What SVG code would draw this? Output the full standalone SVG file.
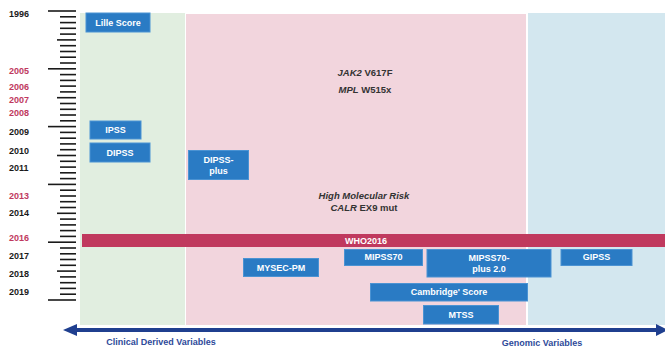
<svg xmlns="http://www.w3.org/2000/svg" width="665" height="350" viewBox="0 0 665 350">
<defs>
<style>
.yr{font-family:"Liberation Sans",Arial,sans-serif;font-size:9px;font-weight:bold;fill:#1a1a1a}
.yr.r{fill:#c0395e}
.box{fill:#2a7bc4;stroke:#4b93d3;stroke-width:1}
.bt{font-family:"Liberation Sans",Arial,sans-serif;font-size:9px;font-weight:bold;fill:#ffffff;text-anchor:middle}
.mt{font-family:"Liberation Sans",Arial,sans-serif;font-size:9.5px;font-weight:bold;fill:#333333;text-anchor:middle}
.ax{font-family:"Liberation Sans",Arial,sans-serif;font-size:9px;font-weight:bold;fill:#2e4a9a;text-anchor:middle}
.tk{stroke:#1a1a1a;stroke-width:1.6}
</style>
</defs>
<rect width="665" height="350" fill="#ffffff"/>
<g id="panels">
<rect x="80" y="13" width="105" height="312" fill="#e1eee0"/>
<rect x="186" y="14" width="340" height="311" fill="#f2d5dd"/>
<rect x="528" y="13" width="137" height="312" fill="#d3e7ef"/>
</g>
<g id="scale">
<g class="tk">
<line x1="48" y1="11" x2="76" y2="11"/>
<line x1="60" y1="16.8" x2="76" y2="16.8"/>
<line x1="60" y1="22.6" x2="76" y2="22.6"/>
<line x1="60" y1="28.3" x2="76" y2="28.3"/>
<line x1="60" y1="34.1" x2="76" y2="34.1"/>
<line x1="57" y1="39.9" x2="76" y2="39.9"/>
<line x1="60" y1="45.7" x2="76" y2="45.7"/>
<line x1="60" y1="51.5" x2="76" y2="51.5"/>
<line x1="60" y1="57.2" x2="76" y2="57.2"/>
<line x1="60" y1="63" x2="76" y2="63"/>
<line x1="48" y1="68.8" x2="76" y2="68.8"/>
<line x1="60" y1="74.6" x2="76" y2="74.6"/>
<line x1="60" y1="80.4" x2="76" y2="80.4"/>
<line x1="60" y1="86.1" x2="76" y2="86.1"/>
<line x1="60" y1="91.9" x2="76" y2="91.9"/>
<line x1="57" y1="97.7" x2="76" y2="97.7"/>
<line x1="60" y1="103.5" x2="76" y2="103.5"/>
<line x1="60" y1="109.3" x2="76" y2="109.3"/>
<line x1="60" y1="115" x2="76" y2="115"/>
<line x1="60" y1="120.8" x2="76" y2="120.8"/>
<line x1="48" y1="126.6" x2="76" y2="126.6"/>
<line x1="60" y1="132.4" x2="76" y2="132.4"/>
<line x1="60" y1="138.2" x2="76" y2="138.2"/>
<line x1="60" y1="143.9" x2="76" y2="143.9"/>
<line x1="60" y1="149.7" x2="76" y2="149.7"/>
<line x1="57" y1="155.5" x2="76" y2="155.5"/>
<line x1="60" y1="161.3" x2="76" y2="161.3"/>
<line x1="60" y1="167.1" x2="76" y2="167.1"/>
<line x1="60" y1="172.8" x2="76" y2="172.8"/>
<line x1="60" y1="178.6" x2="76" y2="178.6"/>
<line x1="48" y1="184.4" x2="76" y2="184.4"/>
<line x1="60" y1="190.2" x2="76" y2="190.2"/>
<line x1="60" y1="196" x2="76" y2="196"/>
<line x1="60" y1="201.7" x2="76" y2="201.7"/>
<line x1="60" y1="207.5" x2="76" y2="207.5"/>
<line x1="57" y1="213.3" x2="76" y2="213.3"/>
<line x1="60" y1="219.1" x2="76" y2="219.1"/>
<line x1="60" y1="224.9" x2="76" y2="224.9"/>
<line x1="60" y1="230.6" x2="76" y2="230.6"/>
<line x1="60" y1="236.4" x2="76" y2="236.4"/>
<line x1="48" y1="242.2" x2="76" y2="242.2"/>
<line x1="60" y1="248" x2="76" y2="248"/>
<line x1="60" y1="253.8" x2="76" y2="253.8"/>
<line x1="60" y1="259.5" x2="76" y2="259.5"/>
<line x1="60" y1="265.3" x2="76" y2="265.3"/>
<line x1="57" y1="271.1" x2="76" y2="271.1"/>
<line x1="60" y1="276.9" x2="76" y2="276.9"/>
<line x1="60" y1="282.7" x2="76" y2="282.7"/>
<line x1="60" y1="288.4" x2="76" y2="288.4"/>
<line x1="60" y1="294.2" x2="76" y2="294.2"/>
<line x1="48" y1="300" x2="76" y2="300"/>
</g>
<text class="yr" x="9" y="17">1996</text>
<text class="yr r" x="9" y="74">2005</text>
<text class="yr r" x="9" y="90">2006</text>
<text class="yr r" x="9" y="103">2007</text>
<text class="yr r" x="9" y="116">2008</text>
<text class="yr" x="9" y="135">2009</text>
<text class="yr" x="9" y="154">2010</text>
<text class="yr" x="9" y="171">2011</text>
<text class="yr r" x="9" y="199">2013</text>
<text class="yr" x="9" y="216">2014</text>
<text class="yr r" x="9" y="241">2016</text>
<text class="yr" x="9" y="259">2017</text>
<text class="yr" x="9" y="277">2018</text>
<text class="yr" x="9" y="295">2019</text>
</g>
<g id="markers">
<text class="mt" x="365" y="76"><tspan font-style="italic">JAK2</tspan> V617F</text>
<text class="mt" x="365" y="93"><tspan font-style="italic">MPL</tspan> W515x</text>
<text class="mt" x="364" y="199" font-style="italic">High Molecular Risk</text>
<text class="mt" x="364" y="211"><tspan font-style="italic">CALR</tspan> EX9 mut</text>
</g>
<g id="who2016">
<rect x="82" y="234" width="583" height="13" fill="#c0395e"/>
<text class="bt" x="366" y="244">WHO2016</text>
</g>
<g id="lille"><rect class="box" x="86" y="13" width="64" height="19"/><text class="bt" x="118" y="25.5">Lille Score</text></g>
<g id="ipss"><rect class="box" x="90" y="121" width="51" height="18"/><text class="bt" x="115.5" y="133">IPSS</text></g>
<g id="dipss"><rect class="box" x="90" y="143" width="60" height="19"/><text class="bt" x="120" y="155.5">DIPSS</text></g>
<g id="dipssplus"><rect class="box" x="188.5" y="150.5" width="60" height="29"/><text class="bt" x="218.5" y="163">DIPSS-</text><text class="bt" x="218.5" y="174">plus</text></g>
<g id="mysec"><rect class="box" x="243.5" y="258.5" width="75" height="18"/><text class="bt" x="281" y="270.5">MYSEC-PM</text></g>
<g id="mipss70"><rect class="box" x="344.5" y="249.5" width="78" height="16"/><text class="bt" x="383.5" y="260">MIPSS70</text></g>
<g id="mipss70plus"><rect class="box" x="427" y="249.5" width="124" height="27.5"/><text class="bt" x="489" y="260.5">MIPSS70-</text><text class="bt" x="489" y="272">plus 2.0</text></g>
<g id="gipss"><rect class="box" x="561" y="249.5" width="71" height="16"/><text class="bt" x="596.5" y="260">GIPSS</text></g>
<g id="cambridge"><rect class="box" x="370.5" y="283.5" width="157" height="17.5"/><text class="bt" x="449" y="295" font-size="8">Cambridge' Score</text></g>
<g id="mtss"><rect class="box" x="423.5" y="305.5" width="75" height="18.5"/><text class="bt" x="461" y="317.5">MTSS</text></g>
<g id="connectors">
<rect x="74" y="328" width="582" height="4" fill="#1f3f8f"/>
<polygon points="63,330 77,324 77,336" fill="#1f3f8f"/>
<polygon points="668,330 656,324 656,336" fill="#1f3f8f"/>
</g>
<text class="ax" x="161" y="345">Clinical Derived Variables</text>
<text class="ax" x="542" y="346">Genomic Variables</text>
</svg>
